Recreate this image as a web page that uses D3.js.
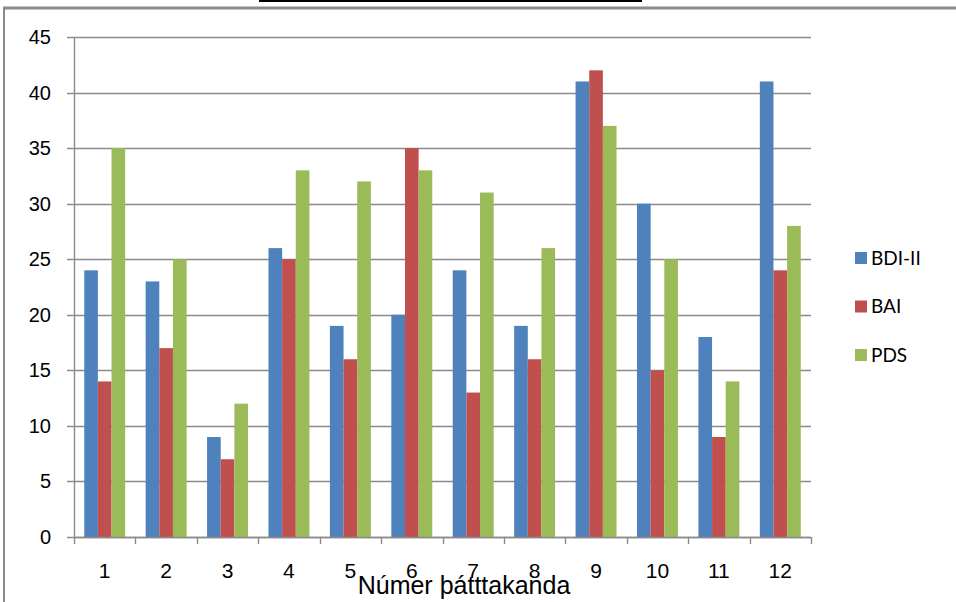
<!DOCTYPE html>
<html>
<head>
<meta charset="utf-8">
<script src="https://cdn.jsdelivr.net/npm/d3@7"></script>
<style>
  html, body { margin: 0; padding: 0; background: #fff; }
  svg { display: block; }
</style>
</head>
<body>
<svg id="chart" width="956" height="602"></svg>
<script>
// Participant numbers and scores per questionnaire
const categories = ["1", "2", "3", "4", "5", "6", "7", "8", "9", "10", "11", "12"];
const seriesNames = ["BDI-II", "BAI", "PDS"];
const bdi = [24, 23, 9, 26, 19, 20, 24, 19, 41, 30, 18, 41];
const bai = [14, 17, 7, 25, 16, 35, 13, 16, 42, 15, 9, 24];
const pds = [35, 25, 12, 33, 32, 33, 31, 26, 37, 25, 14, 28];
const yTicks = [0, 5, 10, 15, 20, 25, 30, 35, 40, 45];
const xTitle = "Númer þátttakanda";

const seriesValues = [bdi, bai, pds];
const colors = ["#4F81BD", "#C0504D", "#9BBB59"];

const svg = d3.select("#chart");
const axisFont = "'Liberation Sans', Arial, sans-serif";
const legendFont = "Lato, Carlito, 'Open Sans', sans-serif";

// chart frame
svg.append("line").attr("x1", 259).attr("x2", 642).attr("y1", 1).attr("y2", 1)
  .attr("stroke", "#000").attr("stroke-width", 2);
svg.append("line").attr("x1", 3).attr("x2", 956).attr("y1", 8).attr("y2", 8)
  .attr("stroke", "#8a8a8a").attr("stroke-width", 3);
svg.append("line").attr("x1", 4).attr("x2", 4).attr("y1", 8).attr("y2", 602)
  .attr("stroke", "#8a8a8a").attr("stroke-width", 2);

const plot = { left: 74, right: 811, top: 37, bottom: 537 };

const x = d3.scaleBand().domain(categories).range([plot.left, plot.right]).paddingInner(0).paddingOuter(0);
const y = d3.scaleLinear().domain([0, 45]).range([plot.bottom, plot.top]);

// horizontal gridlines
svg.append("g").selectAll("line").data(yTicks).join("line")
  .attr("x1", plot.left - 7).attr("x2", plot.right)
  .attr("y1", d => Math.round(y(d)) + 0.5).attr("y2", d => Math.round(y(d)) + 0.5)
  .attr("stroke", "#8a8a8a").attr("stroke-width", 1.4);

// y-axis line
svg.append("line").attr("x1", plot.left + 0.5).attr("x2", plot.left + 0.5)
  .attr("y1", plot.top).attr("y2", plot.bottom)
  .attr("stroke", "#8a8a8a").attr("stroke-width", 1.4);

// y tick labels
svg.append("g").selectAll("text").data(yTicks).join("text")
  .attr("x", 51).attr("y", d => y(d))
  .attr("dy", "0.35em").attr("text-anchor", "end")
  .attr("font-family", axisFont).attr("font-size", 20).attr("fill", "#000")
  .text(d => d);

// bars
const bandW = x.bandwidth();
const barW = bandW / 4.5;
const groupOffset = barW * 0.75;
seriesValues.forEach((vals, si) => {
  svg.append("g").selectAll("rect").data(vals).join("rect")
    .attr("x", (d, i) => x(categories[i]) + groupOffset + si * barW)
    .attr("width", barW)
    .attr("y", d => y(d))
    .attr("height", d => y(0) - y(d))
    .attr("fill", colors[si]);
});

// x-axis line and tick marks
svg.append("line").attr("x1", plot.left).attr("x2", plot.right)
  .attr("y1", plot.bottom + 0.5).attr("y2", plot.bottom + 0.5)
  .attr("stroke", "#8a8a8a").attr("stroke-width", 1.4);
const xTickPos = categories.map(c => x(c)).concat([plot.right]);
svg.append("g").selectAll("line").data(xTickPos).join("line")
  .attr("x1", d => Math.round(d) + 0.5).attr("x2", d => Math.round(d) + 0.5)
  .attr("y1", plot.bottom).attr("y2", plot.bottom + 7)
  .attr("stroke", "#8a8a8a").attr("stroke-width", 1.4);

// x tick labels
svg.append("g").selectAll("text").data(categories).join("text")
  .attr("x", d => x(d) + bandW / 2).attr("y", 578)
  .attr("text-anchor", "middle")
  .attr("font-family", axisFont).attr("font-size", 21).attr("fill", "#000")
  .text(d => d);

// x-axis title
svg.append("text").attr("x", 464).attr("y", 594)
  .attr("text-anchor", "middle")
  .attr("font-family", axisFont).attr("font-size", 25).attr("fill", "#000")
  .text(xTitle);

// legend
const legend = svg.append("g").selectAll("g").data(seriesNames).join("g")
  .attr("transform", (d, i) => `translate(855, ${258 + i * 48.5})`);
legend.append("rect").attr("x", 0).attr("y", -6).attr("width", 12).attr("height", 12)
  .attr("fill", (d, i) => colors[i]);
legend.append("text").attr("x", 16).attr("y", 0).attr("dy", "0.36em")
  .attr("font-family", legendFont).attr("font-size", 19).attr("fill", "#000")
  .text(d => d);
</script>
</body>
</html>
